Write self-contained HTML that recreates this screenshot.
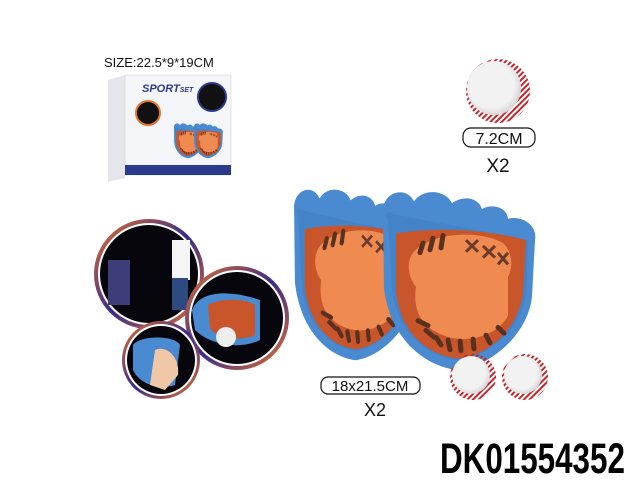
<!DOCTYPE html>
<html><head><style>
body{margin:0;background:#fff;width:640px;height:480px;overflow:hidden;font-family:"Liberation Sans",sans-serif}
</style></head><body>
<svg width="640" height="480" viewBox="0 0 640 480" xmlns="http://www.w3.org/2000/svg">
<defs>
<linearGradient id="ring" x1="0" y1="0" x2="1" y2="1">
<stop offset="0" stop-color="#e8742a"/><stop offset="0.5" stop-color="#3a2a8a"/><stop offset="1" stop-color="#e8742a"/></linearGradient>
<radialGradient id="ballg" cx="0.45" cy="0.45" r="0.6"><stop offset="0.7" stop-color="#f2f2f2"/><stop offset="1" stop-color="#cfcfcf"/></radialGradient>
<pattern id="stitch" width="4" height="4" patternUnits="userSpaceOnUse" patternTransform="rotate(45)">
<rect width="2" height="4" fill="#c0272d"/></pattern>
<g id="glove">
<path d="M5,35 C3,12 28,5 36,22 C45,8 68,10 74,24 C84,16 100,17 104,30 C114,24 129,28 130,40 C143,36 160,46 157,62 L154,120 C150,160 112,192 80,196 C45,192 12,162 6,112 Z" fill="#4a8ad0"/>
<path d="M10,40 C5,35 10,30 15,35 L150,62 L148,118 C143,155 110,182 80,186 C48,182 18,156 14,112 Z" fill="#3f7cc0" opacity="0.5"/>
<path d="M18,55 C45,50 100,48 148,62 L145,118 C138,160 105,182 80,184 C50,181 22,158 18,115 Z" fill="#c9552b"/>
<path d="M35,75 C50,55 100,50 125,65 C135,75 135,90 130,100 L130,140 C120,160 90,170 65,160 C40,150 35,130 38,110 C30,100 28,85 35,75 Z" fill="#ef8a50"/>
<g stroke="#5a3020" stroke-width="5" stroke-linecap="round">
<line x1="45" y1="65" x2="42" y2="75"/><line x1="55" y1="60" x2="52" y2="72"/><line x1="65" y1="57" x2="63" y2="70"/>
<line x1="40" y1="145" x2="50" y2="150"/><line x1="48" y1="155" x2="56" y2="162"/><line x1="58" y1="162" x2="63" y2="170"/><line x1="70" y1="165" x2="72" y2="175"/><line x1="82" y1="166" x2="83" y2="176"/><line x1="95" y1="164" x2="96" y2="174"/><line x1="108" y1="160" x2="112" y2="168"/><line x1="120" y1="152" x2="126" y2="158"/>
</g>
<g stroke="#6a3a2a" stroke-width="3"><path d="M88,62 l12,12 M100,62 l-12,12 M105,68 l12,12 M117,68 l-12,12 M120,75 l10,12 M130,75 l-10,12"/></g>
</g>
</defs>

<!-- box -->
<text x="104" y="67" font-size="13" fill="#111">SIZE:22.5*9*19CM</text>
<polygon points="108,80 125,75 125,178 108,182" fill="#e4e6ec"/>
<rect x="125" y="75" width="106" height="100" fill="#f4f5f8" stroke="#ccc" stroke-width="0.5"/>
<text x="142" y="92" font-size="11" font-weight="bold" font-style="italic" fill="#2b3a8a">SPORT<tspan font-size="7">SET</tspan></text>
<circle cx="212" cy="97" r="14" fill="#111" stroke="#2b3a8a" stroke-width="2"/>
<circle cx="148" cy="113" r="12" fill="#111" stroke="#e8742a" stroke-width="2"/>
<g transform="translate(173,121) scale(0.19)"><use href="#glove"/></g>
<g transform="translate(193,121) scale(0.19)"><use href="#glove"/></g>
<rect x="125" y="165" width="106" height="10" fill="#2b3a8a"/>

<!-- circles -->
<circle cx="149" cy="274" r="55" fill="url(#ring)"/>
<circle cx="149" cy="274" r="51" fill="#fff"/>
<circle cx="149" cy="274" r="49" fill="#06060c"/>
<rect x="108" y="260" width="22" height="45" fill="#3d3d7a"/>
<rect x="172" y="240" width="18" height="40" fill="#f5f5f5"/>
<rect x="172" y="278" width="16" height="32" fill="#2e4a80"/>
<circle cx="237" cy="318" r="52" fill="url(#ring)"/>
<circle cx="237" cy="318" r="48" fill="#fff"/>
<circle cx="237" cy="318" r="46" fill="#06060c"/>
<path d="M192,310 C200,290 230,290 260,300 L260,340 C240,350 210,345 195,330 Z" fill="#4a8ad0"/>
<path d="M208,305 C220,298 245,298 255,305 L255,335 C240,342 215,338 210,328 Z" fill="#c9552b"/>
<circle cx="226" cy="337" r="10" fill="#eee"/>
<circle cx="161" cy="360" r="39" fill="url(#ring)"/>
<circle cx="161" cy="360" r="36" fill="#fff"/>
<circle cx="161" cy="360" r="34" fill="#06060c"/>
<path d="M133,345 C140,335 175,335 180,345 L175,385 C160,390 140,385 133,370 Z" fill="#4a8ad0"/>
<path d="M155,350 C165,345 180,355 178,375 L165,390 L150,385 Z" fill="#f0c8a8"/>

<!-- gloves -->
<g transform="translate(290,178) scale(0.82,0.93)"><use href="#glove"/></g>
<g transform="translate(378,180) scale(1.0,0.97)"><use href="#glove"/></g>

<!-- balls -->
<circle cx="498" cy="91" r="32" fill="url(#stitch)"/><circle cx="494" cy="88" r="27" fill="url(#ballg)"/>
<circle cx="473" cy="377" r="23" fill="url(#stitch)"/><circle cx="471" cy="375" r="19" fill="url(#ballg)"/>
<circle cx="525" cy="377" r="23" fill="url(#stitch)"/><circle cx="523" cy="375" r="19" fill="url(#ballg)"/>

<!-- labels -->
<rect x="463" y="128" width="72" height="19" rx="8" fill="#fff" stroke="#111" stroke-width="1.2"/>
<text x="499" y="144" font-size="16" text-anchor="middle" fill="#111">7.2CM</text>
<text x="498" y="172" font-size="19" text-anchor="middle" fill="#111">X2</text>
<rect x="321" y="377" width="99" height="17" rx="7" fill="#fff" stroke="#111" stroke-width="1.2"/>
<text x="370" y="391" font-size="15" text-anchor="middle" fill="#111">18x21.5CM</text>
<text x="375" y="416" font-size="18" text-anchor="middle" fill="#111">X2</text>
<text x="0" y="0" font-size="43" font-weight="bold" fill="#000" transform="translate(440,473) scale(0.73,1)">DK01554352</text>
</svg>
</body></html>
